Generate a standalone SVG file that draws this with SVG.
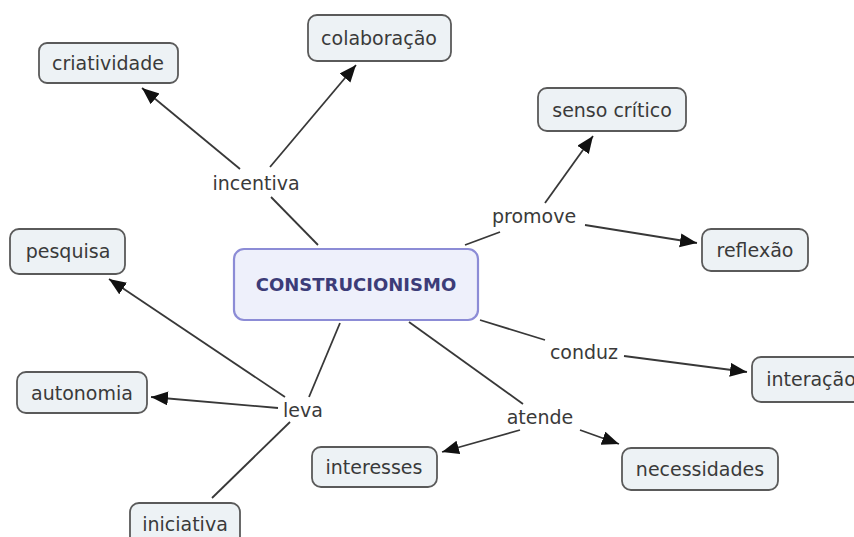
<svg xmlns="http://www.w3.org/2000/svg" width="854" height="537" viewBox="0 0 854 537">
<style>
.node rect{fill:#edf2f5;stroke:#5a5a5a;stroke-width:1.8}
.node text,.phrase text{font-family:"DejaVu Sans",Verdana,sans-serif;font-size:19px;fill:#3a3a3a;text-anchor:middle;dominant-baseline:central}
.main rect{fill:#eef0fb;stroke:#8c8cd6;stroke-width:2.2}
.main text{font-family:"DejaVu Sans",Verdana,sans-serif;font-size:18px;font-weight:bold;fill:#3c3c78;text-anchor:middle;dominant-baseline:central}
.conn line{stroke:#383838;stroke-width:1.8}
.arr{marker-end:url(#ah)}
</style>
<defs>
<marker id="ah" markerUnits="userSpaceOnUse" markerWidth="18" markerHeight="15" refX="17" refY="7" orient="auto">
<path d="M0,0 L17,7 L0,14 z" fill="#111"/>
</marker>
</defs>
<rect width="854" height="537" fill="#fff"/>
<g id="connectors" class="conn">
<line x1="318" y1="245" x2="271" y2="197"/>
<line class="arr" x1="240" y1="169" x2="142" y2="88"/>
<line class="arr" x1="270" y1="167" x2="356" y2="65"/>
<line x1="465" y1="245" x2="500" y2="232"/>
<line class="arr" x1="545" y1="203" x2="593" y2="136"/>
<line class="arr" x1="585" y1="225" x2="697" y2="243"/>
<line x1="480" y1="320" x2="545" y2="340"/>
<line class="arr" x1="624" y1="356" x2="747" y2="372"/>
<line x1="409" y1="322" x2="523" y2="404"/>
<line class="arr" x1="520" y1="430" x2="442" y2="452"/>
<line class="arr" x1="580" y1="430" x2="619" y2="444"/>
<line x1="340" y1="323" x2="309" y2="397"/>
<line class="arr" x1="285" y1="397" x2="109" y2="279"/>
<line class="arr" x1="278" y1="408" x2="151" y2="397"/>
<line x1="290" y1="422" x2="212" y2="498"/>
</g>
<g id="construcionismo" class="main"><rect x="234" y="249" width="244" height="71" rx="10"/><text x="356" y="284">CONSTRUCIONISMO</text></g>
<g id="criatividade" class="node"><rect x="39" y="43" width="139" height="40" rx="8"/><text x="108" y="63">criatividade</text></g>
<g id="colaboracao" class="node"><rect x="308" y="15" width="143" height="46" rx="9"/><text x="379" y="38">colaboração</text></g>
<g id="senso-critico" class="node"><rect x="538" y="88" width="148" height="43" rx="9"/><text x="612" y="110">senso crítico</text></g>
<g id="reflexao" class="node"><rect x="702" y="229" width="106" height="42" rx="9"/><text x="755" y="250">reflexão</text></g>
<g id="pesquisa" class="node"><rect x="10" y="229" width="115" height="45" rx="9"/><text x="68" y="251">pesquisa</text></g>
<g id="autonomia" class="node"><rect x="17" y="372" width="130" height="41" rx="9"/><text x="82" y="393">autonomia</text></g>
<g id="interesses" class="node"><rect x="312" y="447" width="125" height="40" rx="9"/><text x="374" y="467">interesses</text></g>
<g id="iniciativa" class="node"><rect x="130" y="503" width="110" height="44" rx="9"/><text x="185" y="524">iniciativa</text></g>
<g id="necessidades" class="node"><rect x="622" y="448" width="156" height="42" rx="9"/><text x="700" y="469">necessidades</text></g>
<g id="interacao" class="node"><rect x="752" y="357" width="120" height="45" rx="9"/><text x="811" y="379">interação</text></g>
<g id="incentiva" class="phrase"><text x="256" y="183">incentiva</text></g>
<g id="promove" class="phrase"><text x="534" y="216">promove</text></g>
<g id="leva" class="phrase"><text x="303" y="410">leva</text></g>
<g id="conduz" class="phrase"><text x="584" y="352">conduz</text></g>
<g id="atende" class="phrase"><text x="540" y="417">atende</text></g>
</svg>
